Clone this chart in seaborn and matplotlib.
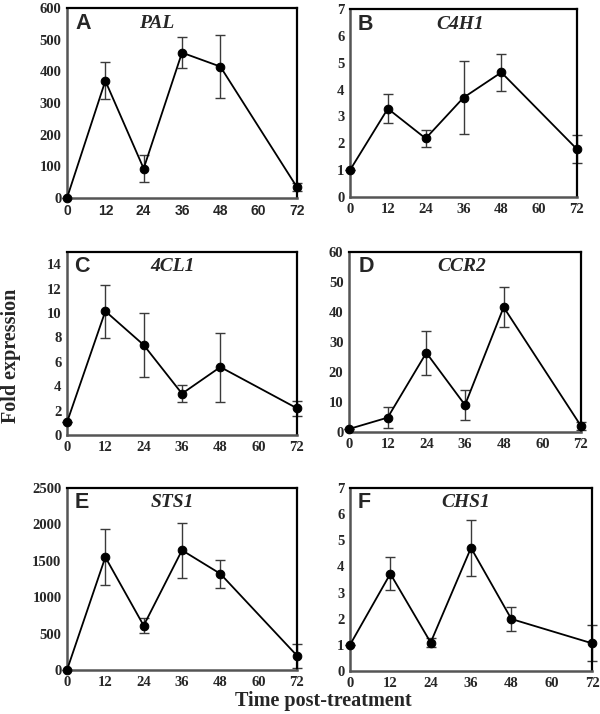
import numpy as np
import pandas as pd
import matplotlib
matplotlib.use("Agg")
import matplotlib.pyplot as plt
import seaborn as sns

sns.set_theme(style="white")
plt.rcParams['font.family'] = ['Liberation Serif', 'DejaVu Serif']

# ---------------- data ----------------
hours = [0, 12, 24, 36, 48, 72]
x_ticks = [0, 12, 24, 36, 48, 60, 72]

pal_mean = [0, 370, 93, 459, 415, 34]
pal_err = [0, 58, 43, 50, 100, 12]

c4h1_mean = [1.0, 3.29, 2.18, 3.70, 4.64, 1.78]
c4h1_err = [0.0, 0.54, 0.33, 1.35, 0.70, 0.52]

cl1_mean = [1.04, 10.15, 7.38, 3.39, 5.57, 2.19]
cl1_err = [0.0, 2.18, 2.64, 0.71, 2.83, 0.62]

ccr2_mean = [1.0, 4.8, 26.4, 9.0, 41.6, 2.0]
ccr2_err = [0.0, 3.4, 7.3, 5.1, 6.7, 1.4]

sts1_mean = [0, 1550, 610, 1645, 1322, 197]
sts1_err = [0, 388, 105, 376, 193, 165]

chs1_mean = [1.0, 3.72, 1.09, 4.71, 1.99, 1.06]
chs1_err = [0.0, 0.64, 0.18, 1.06, 0.47, 0.69]

letters = ['A', 'B', 'C', 'D', 'E', 'F']
genes = ['PAL', 'C4H1', '4CL1', 'CCR2', 'STS1', 'CHS1']
means = [pal_mean, c4h1_mean, cl1_mean, ccr2_mean, sts1_mean, chs1_mean]
errs = [pal_err, c4h1_err, cl1_err, ccr2_err, sts1_err, chs1_err]
y_tops = [600, 7, 15, 60, 2500, 7]
y_steps = [100, 1, 2, 10, 500, 1]
y_tick_max = [600, 7, 14, 60, 2500, 7]

# ------------- layout (figure fractions) -------------
W, H = 600, 714
boxes_px = [  # left, top, right, bottom in pixels
    (67, 8, 297, 198),
    (350, 9, 577, 197),
    (67, 252, 297, 435),
    (349, 252, 581, 432),
    (67, 488, 297, 670),
    (350, 488, 592, 671),
]
letter_x = [0.035, 0.035, 0.03, 0.04, 0.035, 0.033]
gene_x = [0.39, 0.485, 0.46, 0.487, 0.46, 0.48]

fig = plt.figure(figsize=(W / 100, H / 100), dpi=100)

for i in range(6):
    l, t, r, b = boxes_px[i]
    ax = fig.add_axes([l / W, (H - b) / H, (r - l) / W, (b - t) / H])
    df = pd.DataFrame({'hours': hours, 'fold': means[i], 'err': errs[i]})
    ax.errorbar(df['hours'], df['fold'], yerr=df['err'], fmt='none',
                ecolor='#3a3a3a', elinewidth=1.0, capsize=3.5, capthick=1.0,
                clip_on=False, zorder=2)
    sns.lineplot(data=df, x='hours', y='fold', ax=ax, color='black',
                 linewidth=1.3, marker='o', markersize=6.2,
                 markeredgecolor='black', markerfacecolor='black',
                 clip_on=False, zorder=3)
    ax.set_xlim(0, 72)
    ax.set_ylim(0, y_tops[i])
    ax.set_xticks(x_ticks)
    ax.set_yticks(np.arange(0, y_tick_max[i] + y_steps[i] * 0.5, y_steps[i]))
    ax.set_xlabel('')
    ax.set_ylabel('')
    ax.tick_params(axis='both', length=0, pad=4)
    for lab in ax.get_yticklabels():
        lab.set_fontweight('bold')
        lab.set_fontsize(10.5)
        lab.set_family('Liberation Serif')
    for lab in ax.get_xticklabels():
        lab.set_fontweight('bold')
        if i == 0:
            lab.set_family('Liberation Sans')
            lab.set_fontsize(10)
        else:
            lab.set_family('Liberation Serif')
            lab.set_fontsize(10.5)
    for side in ['top', 'right']:
        ax.spines[side].set_color('black')
        ax.spines[side].set_linewidth(1.6)
    for side in ['left', 'bottom']:
        ax.spines[side].set_color('#555555')
        ax.spines[side].set_linewidth(1.8)
    ax.text(letter_x[i], 0.92, letters[i], transform=ax.transAxes,
            fontsize=15.5, fontweight='bold', family='Liberation Sans',
            ha='left', va='center')
    ax.text(gene_x[i], 0.92, genes[i], transform=ax.transAxes,
            fontsize=14, fontweight='bold', style='italic',
            family='Liberation Serif', ha='center', va='center')

fig.text(11 / W, 1 - 356 / H, 'Fold expression', rotation=90,
         fontsize=14.5, fontweight='bold', family='Liberation Serif',
         ha='center', va='center')
fig.text(323 / W, 1 - 701 / H, 'Time post-treatment',
         fontsize=14.5, fontweight='bold', family='Liberation Serif',
         ha='center', va='center')

fig.savefig('out.png', dpi=100)
